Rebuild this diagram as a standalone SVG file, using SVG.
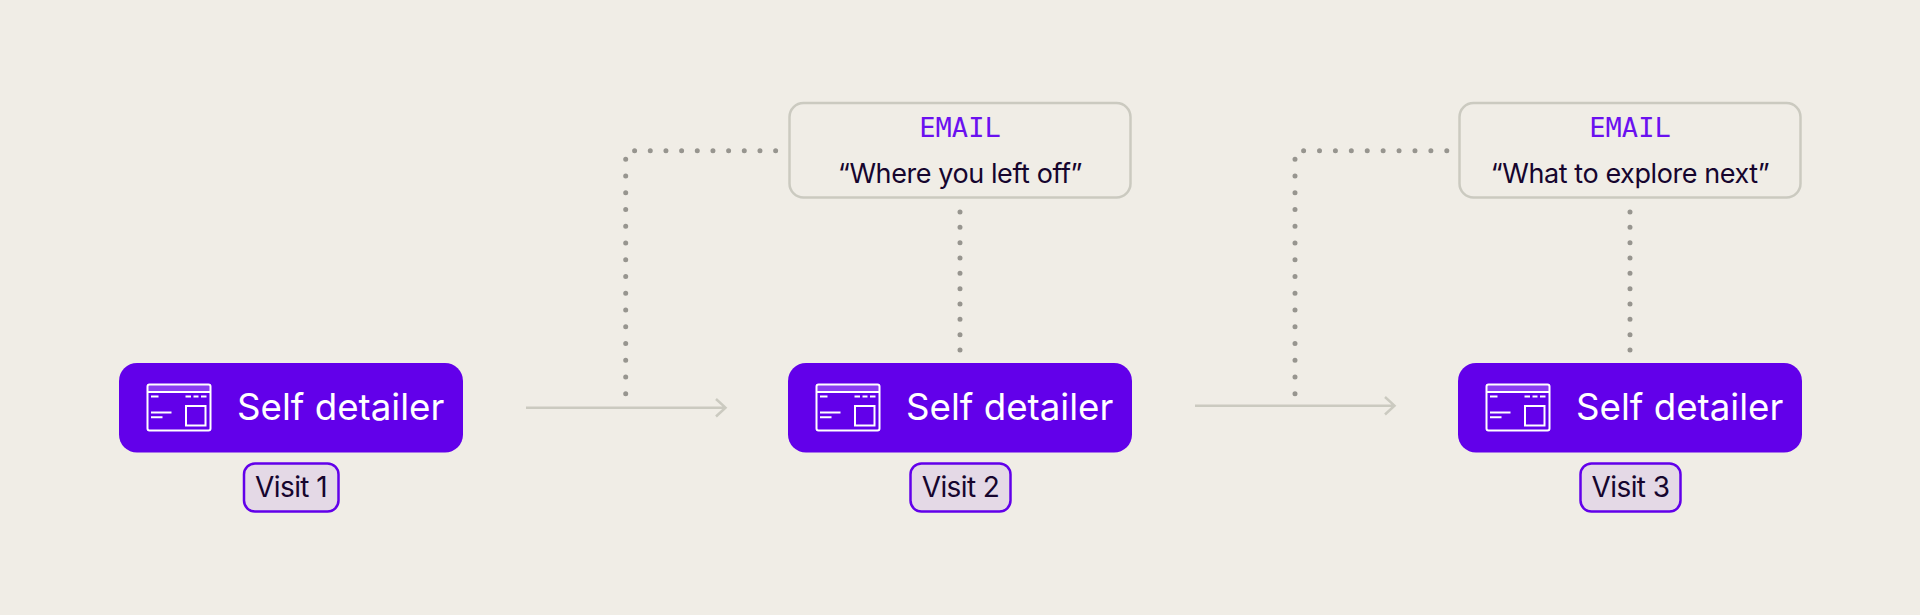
<svg xmlns="http://www.w3.org/2000/svg" width="1920" height="615" viewBox="0 0 1920 615">
<style>
.node{fill:#6200EA}
.nt{font-family:Inter,"Liberation Sans",sans-serif;font-size:36.700px;fill:#fff;text-anchor:start}
.tag{fill:#E4D9E6;stroke:#6200EA;stroke-width:2.5}
.tt{font-family:Inter,"Liberation Sans",sans-serif;font-size:28px;letter-spacing:-0.6px;fill:#16052E;text-anchor:middle}
.box{fill:none;stroke:#CBCAC0;stroke-width:2.5}
.em{font-family:"DejaVu Sans Mono",monospace;font-size:27px;fill:#6A10F0;text-anchor:middle}
.qt{font-family:Inter,"Liberation Sans",sans-serif;font-size:27px;letter-spacing:-0.42px;fill:#16052E;text-anchor:middle}
.dot{fill:none;stroke:#97958F;stroke-width:5;stroke-linecap:round}
.arr{fill:none;stroke:#CBCAC0;stroke-width:2.5}
.ic{fill:none;stroke:#fff;stroke-width:2}
</style>
<defs>
<g id="icon">
<rect x="147.5" y="384.5" width="63" height="7.5" fill="#8A3DF0"/>
<rect class="ic" x="147.5" y="384.5" width="63" height="46" rx="2"/>
<path class="ic" d="M147.5 392H210.5M151 396.5H158.500M185.500 396.500H191M193.500 396.500H198.500M201 396.500H206.500M151 412.500H171.500M151 417.300H162.500"/>
<rect class="ic" x="186" y="406" width="19.500" height="19.500"/>
</g>
</defs>
<rect width="1920" height="615" fill="#F0EDE6"/>
<g id="connectors">
<path class="arr" d="M526 407.700H725.500M716 399L725.500 407.700L716 416.500"/>
<path class="arr" d="M1195 405.700H1394.500M1385 397L1394.500 405.700L1385 414.500"/>
<path class="dot" stroke-dasharray="0 16.740" d="M625.700 393.700V159.300"/>
<path class="dot" stroke-dasharray="0 15.670" d="M634.600 150.700H775.800"/>
<path class="dot" stroke-dasharray="0 16.740" d="M1295 393.700V159.300"/>
<path class="dot" stroke-dasharray="0 15.910" d="M1303.600 150.700H1446.900"/>
<path class="dot" stroke-dasharray="0 15.330" d="M960 212V350.100"/>
<path class="dot" stroke-dasharray="0 15.330" d="M1630 212V350.100"/>
</g>
<g id="node-1">
<rect class="node" x="119" y="363" width="344" height="89.500" rx="18"/>
<use href="#icon"/>
<text class="nt" x="237" y="420">Self detailer</text>
</g>
<g id="tag-1">
<rect class="tag" x="244" y="463.500" width="94.500" height="48" rx="11"/>
<text class="tt" x="291" y="497">Visit 1</text>
</g>
<g id="node-2">
<rect class="node" x="788" y="363" width="344" height="89.500" rx="18"/>
<use href="#icon" x="669"/>
<text class="nt" x="906" y="420">Self detailer</text>
</g>
<g id="tag-2">
<rect class="tag" x="910.500" y="463.500" width="100" height="48" rx="11"/>
<text class="tt" x="960.500" y="497">Visit 2</text>
</g>
<g id="node-3">
<rect class="node" x="1458" y="363" width="344" height="89.500" rx="18"/>
<use href="#icon" x="1339"/>
<text class="nt" x="1576" y="420">Self detailer</text>
</g>
<g id="tag-3">
<rect class="tag" x="1580.500" y="463.500" width="100" height="48" rx="11"/>
<text class="tt" x="1630.500" y="497">Visit 3</text>
</g>
<g id="email-1">
<rect class="box" x="789.500" y="103" width="341" height="94.500" rx="14"/>
<text class="em" x="960" y="137">EMAIL</text>
<text class="qt" x="960" y="182.500">“Where you left off”</text>
</g>
<g id="email-2">
<rect class="box" x="1459.500" y="103" width="341" height="94.500" rx="14"/>
<text class="em" x="1630" y="137">EMAIL</text>
<text class="qt" x="1630" y="182.500">“What to explore next”</text>
</g>
</svg>
